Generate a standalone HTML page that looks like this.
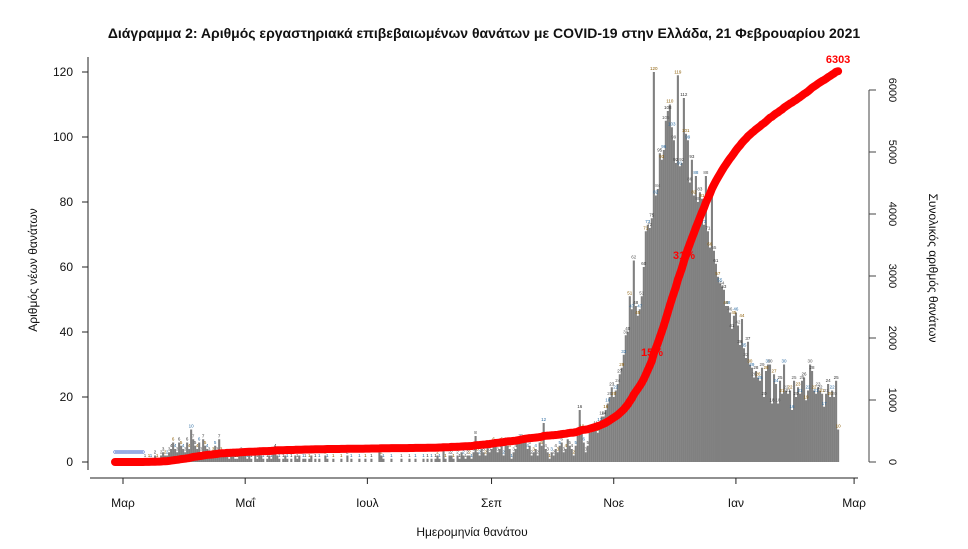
<!DOCTYPE html>
<html><head><meta charset="utf-8">
<style>
body{margin:0;background:#fff;}
svg{display:block;font-family:"Liberation Sans","DejaVu Sans",sans-serif;}
</style></head>
<body>
<svg id="chart" width="968" height="549" viewBox="0 0 968 549">
<text x="484" y="38" text-anchor="middle" font-size="14" font-weight="bold" fill="#111">Διάγραμμα 2: Αριθμός εργαστηριακά επιβεβαιωμένων θανάτων με COVID-19 στην Ελλάδα, 21 Φεβρουαρίου 2021</text>
<g id="bars"></g>
<g id="barlabels"></g>
<g id="zeros"></g>
<path id="cumline" fill="none" stroke="#ff0000" stroke-width="8" stroke-linecap="round" stroke-linejoin="round"/>
<text id="endlabel" font-size="11" font-weight="bold" fill="#ff0000" text-anchor="middle"></text>
<text x="652" y="356" font-size="11" font-weight="bold" fill="#ff0000" text-anchor="middle">15%</text>
<text x="684" y="259" font-size="11" font-weight="bold" fill="#ff0000" text-anchor="middle">31%</text>
<g id="yleft"></g>
<g id="yright"></g>
<g id="xaxis"></g>
<text transform="translate(37,270) rotate(-90)" text-anchor="middle" font-size="12" fill="#111">Αριθμός νέων θανάτων</text>
<text transform="translate(929,268) rotate(90)" text-anchor="middle" font-size="12" fill="#111">Συνολικός αριθμός θανάτων</text>
<text x="472" y="536" text-anchor="middle" font-size="12" fill="#111">Ημερομηνία θανάτου</text>
</svg>
<script>
// daily deaths, starting Feb 26 2020 (day index -4 relative to Mar 1 2020)
const startDay = -4;
const febMar2020 = [0,0,0,0, 0,0,0,0,0,0,0,0,0,0,0,1,0,1,1,0,2,1,0,2,3,2,2,3,4,6,4,3,6,5,4];
const apr2020 = [3,6,4,10,7,5,4,6,3,7,5,4,3,2,3,5,3,7,3,2,2,2,1,2,2,1,1,2,3,2];
const may2020 = [2,1,2,1,0,2,1,3,2,1,0,1,2,1,3,4,2,1,0,1,2,1,0,1,0,2,1,2,0,1,1];
const jun2020 = [0,1,2,0,1,0,1,0,0,2,1,0,0,1,0,0,0,1,0,0,2,0,1,0,0,0,1,0,0,1];
const jul2020 = [0,0,1,0,0,0,3,2,1,0,0,0,1,0,0,0,0,1,0,0,0,1,0,0,1,0,0,0,1,0,1];
const aug2020 = [0,1,0,1,2,1,0,4,1,0,2,2,1,0,2,1,3,2,1,2,2,1,3,8,3,2,4,3,2,5,3];
const sep2020 = [4,6,5,3,4,6,2,6,5,4,1,3,4,6,7,7,6,6,4,5,2,3,4,2,6,5,12,4,3,1];
const oct2020 = [3,2,4,3,5,6,3,4,7,5,4,2,5,8,16,10,6,3,5,9,10,10,11,9,12,14,14,16,18,20,23];
const nov2020 = [20,22,24,27,29,33,39,40,51,47,62,48,45,47,51,60,71,73,72,75,120,82,84,95,93,96,105,108,110,103];
const dec2020 = [99,92,119,91,92,112,101,99,86,93,82,88,80,83,81,73,88,71,66,84,65,61,57,55,54,53,48,48,46,41,45];
const jan2021 = [46,42,36,44,35,32,37,30,29,26,28,26,25,29,20,28,30,30,18,27,24,18,25,21,30,22,21,22,16,25,20];
const feb2021 = [23,21,25,26,19,22,30,28,22,21,23,22,21,17,21,24,20,22,20,25,10];
const leftTicks = [0,20,40,60,80,100,120];
const rightTicks = [0,1000,2000,3000,4000,5000,6000];
const monthLabels = ["Μαρ","Μαΐ","Ιουλ","Σεπ","Νοε","Ιαν","Μαρ"];
const monthDays = [0,61,122,184,245,306,365];

const daily = [].concat(febMar2020,apr2020,may2020,jun2020,jul2020,aug2020,sep2020,oct2020,nov2020,dec2020,jan2021,feb2021);
const NS="http://www.w3.org/2000/svg";
const xS = d => 123 + 2.003*d;
const yL = v => 462 - v*3.25;
const yR = v => 462 - v*(372/6000);
function mk(tag, attrs, parent){const e=document.createElementNS(NS,tag);for(const k in attrs)e.setAttribute(k,attrs[k]);parent.appendChild(e);return e;}

const bars=document.getElementById('bars'), bl=document.getElementById('barlabels'), zg=document.getElementById('zeros');
let cum=0; const pts=[];
const cols=["#333","#8a5a00","#2a6aa0","#555"];
daily.forEach((v,i)=>{
  const d=startDay+i;
  cum+=v;
  pts.push([xS(d), yR(cum)]);
  if(v>0){
    const r=mk('rect',{x:(xS(d)-1).toFixed(2),y:yL(v).toFixed(2),width:2.1,height:(v*3.25).toFixed(2),fill:'#808080'},bars);
    
    
    const t=mk('text',{x:xS(d).toFixed(1),y:(yL(v)-2).toFixed(1),'font-size':4.5,'text-anchor':'middle',fill:cols[i%4]},bl);
    
    
    t.textContent=v;
  } else if(d<12){
    const c=mk('circle',{cx:xS(d).toFixed(1),cy:452,r:1.3,fill:'none',stroke:'#4a6fd0','stroke-width':0.6},zg);
    
    
  }
});
document.getElementById('cumline').setAttribute('d','M'+pts.map(p=>p[0].toFixed(1)+','+p[1].toFixed(1)).join('L'));
const el=document.getElementById('endlabel');
const last=pts[pts.length-1];
el.setAttribute('x',last[0]); el.setAttribute('y',last[1]-8); el.textContent=cum;

const yl=document.getElementById('yleft');
mk('line',{x1:88,y1:57,x2:88,y2:470,stroke:'#222','stroke-width':1},yl);
leftTicks.forEach(v=>{
  const ln=mk('line',{x1:82,y1:yL(v),x2:88,y2:yL(v),stroke:'#222'},yl);
  
  
  const t=mk('text',{x:73,y:yL(v)+4,'font-size':12,'text-anchor':'end',fill:'#111'},yl);
  
  
  t.textContent=v;
});
const yr=document.getElementById('yright');
mk('line',{x1:869,y1:yR(6000),x2:869,y2:yR(0),stroke:'#444','stroke-width':1},yr);
rightTicks.forEach(v=>{
  const ln=mk('line',{x1:869,y1:yR(v),x2:876,y2:yR(v),stroke:'#444'},yr);
  
  
  const t=mk('text',{transform:`translate(889,${yR(v)}) rotate(90)`,'font-size':11,'text-anchor':'middle',fill:'#111'},yr);
  
  
  t.textContent=v;
});
const xa=document.getElementById('xaxis');
mk('line',{x1:90,y1:478,x2:858,y2:478,stroke:'#222'},xa);
monthDays.forEach((d,i)=>{
  const ln=mk('line',{x1:xS(d),y1:478,x2:xS(d),y2:484,stroke:'#222'},xa);
  
  
  const t=mk('text',{x:xS(d),y:507,'font-size':12,'text-anchor':'middle',fill:'#111'},xa);
  
  
  t.textContent=monthLabels[i];
});
</script>
</body></html>
